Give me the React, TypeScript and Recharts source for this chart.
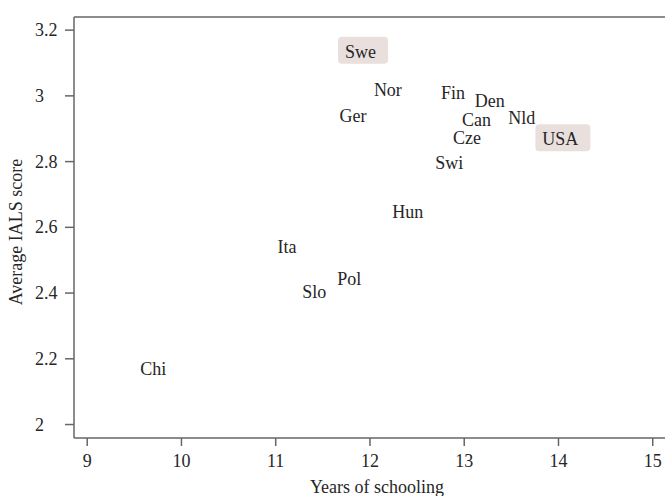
import React from 'react';
import { ScatterChart, Scatter, XAxis, YAxis } from 'recharts';

// country codes, years of schooling, average IALS score
const countries = ['Swe', 'Nor', 'Ger', 'Fin', 'Den', 'Can', 'Nld', 'Cze', 'USA', 'Swi', 'Hun', 'Ita', 'Pol', 'Slo', 'Chi'];
const schooling = [11.9, 12.19, 11.82, 12.88, 13.27, 13.13, 13.61, 13.03, 14.02, 12.84, 12.4, 11.12, 11.78, 11.41, 9.7];
const ialsScore = [3.134, 3.018, 2.939, 3.008, 2.984, 2.926, 2.932, 2.871, 2.868, 2.795, 2.647, 2.54, 2.444, 2.404, 2.168];
const highlighted = ['Swe', 'USA'];

const xTicks = [9, 10, 11, 12, 13, 14, 15];
const yTicks = [2, 2.2, 2.4, 2.6, 2.8, 3, 3.2];

const points = countries.map((name, i) => ({ name, x: schooling[i], y: ialsScore[i] }));

const FONT = '"Liberation Serif", "Times New Roman", serif';
const TEXT = '#262626';
const AXIS = '#666666';

let ctx: CanvasRenderingContext2D | null = null;
const textWidth = (s: string) => {
  if (!ctx) ctx = document.createElement('canvas').getContext('2d');
  if (!ctx) return s.length * 10.5;
  ctx.font = '18px "Liberation Serif"';
  return ctx.measureText(s).width;
};

const LabelMark = (props: any) => {
  const { cx, cy, payload } = props;
  const hi = highlighted.includes(payload.name);
  const w = textWidth(payload.name);
  return (
    <g>
      {hi && <rect x={cx - w / 2 - 7} y={cy - 15} width={w + 19} height={27} rx={4} fill="#e9e0de" />}
      <text x={cx} y={cy} textAnchor="middle" dominantBaseline="central" fontFamily={FONT} fontSize={18} fill={TEXT}>
        {payload.name}
      </text>
    </g>
  );
};

const XTick = (props: any) => {
  const { x, payload } = props;
  return (
    <text x={x} y={461} textAnchor="middle" dominantBaseline="central" fontFamily={FONT} fontSize={18} fill={TEXT}>
      {payload.value}
    </text>
  );
};

const YTick = (props: any) => {
  const { y, payload } = props;
  return (
    <text x={35} y={y} textAnchor="start" dominantBaseline="central" fontFamily={FONT} fontSize={18} fill={TEXT}>
      {payload.value}
    </text>
  );
};

const App = () => {
  return (
    <div style={{ position: 'absolute', left: 0, top: 0 }}>
      <ScatterChart width={665} height={496} margin={{ top: 0, right: 0, bottom: 0, left: 0 }}>
        <XAxis
          type="number"
          dataKey="x"
          domain={[8.86, 15.13]}
          allowDataOverflow
          ticks={xTicks}
          height={58}
          tickSize={8}
          stroke={AXIS}
          strokeWidth={1.5}
          tick={<XTick />}
          label={{
            content: () => (
              <text x={377} y={487} textAnchor="middle" dominantBaseline="central" fontFamily={FONT} fontSize={18} fill={TEXT}>
                Years of schooling
              </text>
            ),
          }}
        />
        <XAxis
          xAxisId="top"
          orientation="top"
          type="number"
          domain={[8.86, 15.13]}
          allowDataOverflow
          ticks={xTicks}
          height={17}
          tickSize={8}
          stroke={AXIS}
          strokeWidth={1.5}
          tick={() => <g />}
        />
        <YAxis
          type="number"
          dataKey="y"
          domain={[1.959, 3.24]}
          allowDataOverflow
          ticks={yTicks}
          width={74}
          tickSize={9}
          stroke={AXIS}
          strokeWidth={1.5}
          tick={<YTick />}
          label={{
            content: () => (
              <text
                x={16}
                y={232}
                transform="rotate(-90,16,232)"
                textAnchor="middle"
                dominantBaseline="central"
                fontFamily={FONT}
                fontSize={18}
                fill={TEXT}
              >
                Average IALS score
              </text>
            ),
          }}
        />
        <Scatter data={points} shape={LabelMark} isAnimationActive={false} />
      </ScatterChart>
    </div>
  );
};

export default App;
